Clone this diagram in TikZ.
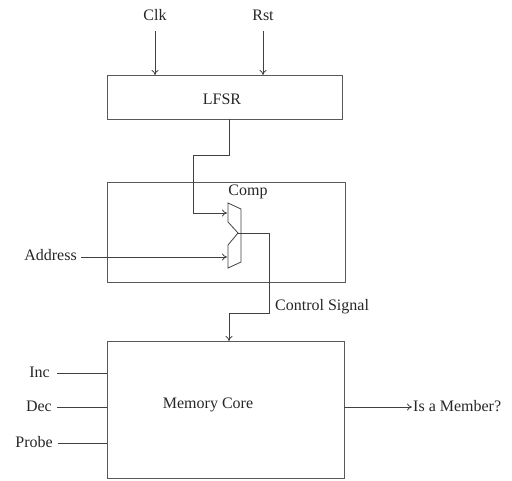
\documentclass[tikz,border=0pt]{standalone}
\usepackage{fontspec}
\setmainfont{Liberation Serif}
\usetikzlibrary{arrows.meta}
\begin{document}
\begin{tikzpicture}[x=1pt,y=-1pt, font=\fontsize{16}{19}\selectfont,
  wire/.style={draw=black!75, line width=0.8pt},
  arr/.style={wire,-{To[length=5pt,width=7pt]}},
  blk/.style={draw=black!65, line width=1.1pt, anchor=north west, inner sep=0pt},
  lbl/.style={inner sep=1pt, text=black!85}]
\useasboundingbox (0,0) rectangle (512,480);
% blocks
\node[blk, minimum width=235pt, minimum height=44pt] (lfsr) at (107,75) {};
\node[blk, minimum width=238pt, minimum height=100pt] (comp) at (107,182) {};
\node[blk, minimum width=237pt, minimum height=137pt] (mem) at (107,341) {};
\node[lbl] (tlfsr) at (222,99) {LFSR};
\node[lbl] (tcomp) at (248,192) {Comp};
\node[lbl] (tmem) at (208,405) {Memory Core};
% comparator shape
\coordinate (c1) at (228,203);
\coordinate (c2) at (241,209);
\coordinate (c3) at (241,262);
\coordinate (c4) at (228,268);
\coordinate (c5) at (228,245);
\coordinate (cn) at (238,233);
\coordinate (c6) at (228,222);
\draw[wire] (c1) -- (c2) -- (c3) -- (c4) -- (c5) -- (cn) -- (c6) -- cycle;
\coordinate (cin1) at (227,213);
\coordinate (cin2) at (227,257);
% top inputs
\node[lbl] (clk) at (155,15) {Clk};
\node[lbl] (rst) at (263,15) {Rst};
\coordinate (clks) at (155,31);
\coordinate (rsts) at (263,31);
\draw[arr] (clks) -- (clks |- lfsr.north);
\draw[arr] (rsts) -- (rsts |- lfsr.north);
% LFSR to comparator
\coordinate (lo) at (229,119);
\draw[arr] (lo) -- (229,155) -- (193,155) -- (193,213) -- (cin1);
% address
\node[lbl, anchor=east] (addr) at (78,255) {Address};
\draw[arr] (addr.east |- cin2) ++(3,0) -- (cin2);
% control signal
\node[lbl, anchor=west] (ctrl) at (274,307) {Control Signal};
\coordinate (mtop) at (229,341);
\draw[arr] (cn) -- (269,233) -- (269,313) -- (229,313) -- (mtop);
% memory inputs
\node[lbl, anchor=east] (inc) at (51,372) {Inc};
\node[lbl, anchor=east] (dec) at (53,406) {Dec};
\node[lbl, anchor=east] (probe) at (54,442) {Probe};
\coordinate (mi1) at (107,373);
\coordinate (mi2) at (107,407);
\coordinate (mi3) at (107,443);
\draw[wire] (57,373) -- (mi1);
\draw[wire] (57,407) -- (mi2);
\draw[wire] (58,443) -- (mi3);
% output
\node[lbl, anchor=west] (mem2) at (412,406) {Is a Member?};
\draw[arr] (344,407) -- (mem2.west |- 0,407);
\end{tikzpicture}
\end{document}
